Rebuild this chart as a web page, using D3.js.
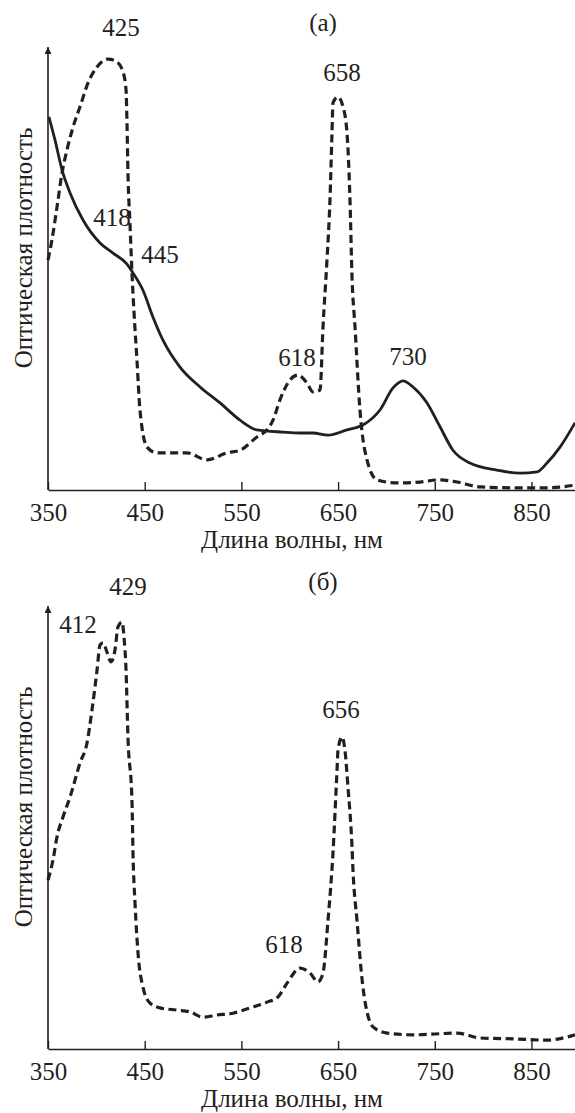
<!DOCTYPE html>
<html>
<head>
<meta charset="utf-8">
<script src="https://d3js.org/d3.v7.min.js"></script>
<style>
  body { margin: 0; background: #fff; }
  text { font-family: "Liberation Serif", "DejaVu Serif", serif; fill: #231f20; }
</style>
</head>
<body>
<script>
// wavelength ticks, nm
var wavelengthTicks = [350, 450, 550, 650, 750, 850];

// (a) dashed spectrum: [nm, optical density]
var spectrumA_dashed = [
  [350, 0.520], [354.1, 0.566], [359.3, 0.640], [364.5, 0.717], [369.6, 0.769],
  [375.9, 0.821], [383.1, 0.867], [391.4, 0.921], [400.7, 0.957], [412, 0.975],
  [421.4, 0.968], [427.6, 0.946], [430.7, 0.905], [431.7, 0.830], [432.7, 0.717],
  [434.8, 0.602], [436.9, 0.489], [439, 0.400], [442, 0.294], [445.1, 0.181],
  [452.4, 0.097], [462.7, 0.084], [479.3, 0.084], [493.7, 0.084], [514.4, 0.068],
  [535.1, 0.084], [548.6, 0.090], [566.1, 0.120], [576.5, 0.136], [582.7, 0.158],
  [589.9, 0.204], [600.3, 0.249], [608.5, 0.260], [617.8, 0.242], [624, 0.222],
  [631.3, 0.226], [634.4, 0.369], [638.5, 0.520], [641.6, 0.656], [643.7, 0.808],
  [644.7, 0.876], [649.9, 0.889], [655.1, 0.867], [659.2, 0.808], [662.3, 0.656],
  [664.4, 0.482], [667.5, 0.369], [672.6, 0.181], [679.9, 0.068], [690.2, 0.023],
  [710.9, 0.016], [734.7, 0.018], [755.4, 0.023], [773, 0.018], [796.7, 0.007],
  [830.9, 0.005], [866, 0.005], [895, 0.011]
];

// (a) solid spectrum
var spectrumA_solid = [
  [351, 0.844], [357.2, 0.792], [364.5, 0.724], [372.8, 0.672], [386.2, 0.611],
  [403.8, 0.559], [417.2, 0.536], [431.7, 0.511], [437.9, 0.491], [448.2, 0.452],
  [458.6, 0.391], [468.9, 0.339], [486.5, 0.278], [507.2, 0.233], [527.9, 0.197],
  [548.6, 0.158], [566.1, 0.136], [593, 0.131], [610.6, 0.129], [624, 0.129],
  [639.6, 0.124], [659.2, 0.136], [675.7, 0.147], [693.3, 0.181], [706.8, 0.231],
  [717.1, 0.247], [727.5, 0.233], [742, 0.197], [755.4, 0.143], [768.8, 0.090],
  [786.4, 0.061], [814.3, 0.045], [838.1, 0.038], [855.7, 0.041], [866, 0.061],
  [879.5, 0.097], [895, 0.152]
];

// (б) dashed spectrum
var spectrumB_dashed = [
  [350, 0.382], [355.2, 0.428], [359.3, 0.480], [365.5, 0.525], [372.8, 0.570],
  [383.1, 0.647], [390.3, 0.692], [395.5, 0.767], [400.7, 0.857], [403.8, 0.914],
  [406.9, 0.919], [411, 0.898], [415.1, 0.876], [419.3, 0.903], [422.4, 0.955],
  [426.5, 0.966], [428.6, 0.932], [430.7, 0.857], [432.7, 0.706], [436.9, 0.557],
  [437.9, 0.443], [440, 0.330], [443.1, 0.217], [448.2, 0.140], [455.5, 0.104],
  [465.8, 0.093], [483.4, 0.088], [496.8, 0.084], [510.3, 0.072], [524.8, 0.077],
  [541.3, 0.081], [558.9, 0.093], [576.5, 0.106], [587.9, 0.118], [597.2, 0.149],
  [610.6, 0.183], [620.9, 0.172], [629.2, 0.152], [634.4, 0.172], [639.6, 0.292],
  [644.7, 0.443], [648.9, 0.631], [649.9, 0.676], [654, 0.706], [657.1, 0.676],
  [660.2, 0.593], [664.4, 0.457], [665.4, 0.405], [669.5, 0.292], [675.7, 0.140],
  [686.1, 0.050], [700.6, 0.036], [727.5, 0.032], [773, 0.036], [796.7, 0.025],
  [830.9, 0.023], [866, 0.020], [886.7, 0.027], [895, 0.032]
];

// peak labels: text, nm, optical density of the label baseline
var peaksA = [
  ["425", 425.5, 1.027], ["658", 654, 0.925], ["418", 416.2, 0.597],
  ["445", 465.8, 0.514], ["618", 607.5, 0.281], ["730", 722.3, 0.283]
];
var peaksB = [
  ["412", 381, 0.941], ["429", 432.7, 1.027], ["656", 653, 0.749], ["618", 594, 0.217]
];

var panelTitles = ["(а)", "(б)"];
var xTitle = "Длина волны, нм";
var yTitle = "Оптическая плотность";

var W = 575, H = 1113;
var fontSize = 25;
var ink = "#231f20";

var svg = d3.select("body").append("svg")
    .attr("width", W)
    .attr("height", H);

var defs = svg.append("defs");
defs.append("marker")
    .attr("id", "arrow")
    .attr("viewBox", "0 0 10 10")
    .attr("refX", 10).attr("refY", 5)
    .attr("markerWidth", 12).attr("markerHeight", 7)
    .attr("markerUnits", "userSpaceOnUse")
    .attr("orient", "auto")
  .append("path")
    .attr("d", "M0,0 L10,5 L0,10 Z")
    .attr("fill", ink);

var x = d3.scaleLinear()
    .domain([350, 895])
    .range([48, 575]);

function drawPanel(offsetY, title, series, peaks) {
  var g = svg.append("g")
      .attr("transform", "translate(0," + offsetY + ")");

  var y = d3.scaleLinear()
      .domain([0, 1])
      .range([490, 48]);

  // x axis, inner ticks
  var xAxis = g.append("g")
      .attr("transform", "translate(0," + y(0) + ")")
      .call(d3.axisBottom(x)
          .tickValues(wavelengthTicks)
          .tickSizeInner(-8)
          .tickSizeOuter(0)
          .tickPadding(13)
          .tickFormat(d3.format("d")));
  xAxis.select(".domain").attr("stroke", ink).attr("stroke-width", 1.6);
  xAxis.selectAll(".tick line").attr("stroke", ink).attr("stroke-width", 1.4);
  xAxis.selectAll(".tick text")
      .attr("fill", ink)
      .style("font-size", fontSize + "px")
      .style("font-family", "'Liberation Serif', serif");

  // y axis with arrow
  g.append("line")
      .attr("x1", x(350)).attr("x2", x(350))
      .attr("y1", y(0)).attr("y2", y(1) - 1)
      .attr("stroke", ink)
      .attr("stroke-width", 1.6)
      .attr("marker-end", "url(#arrow)");

  var line = d3.line()
      .x(function(d) { return x(d[0]); })
      .y(function(d) { return y(d[1]); })
      .curve(d3.curveMonotoneX);

  series.forEach(function(s) {
    g.append("path")
        .datum(s.data)
        .attr("fill", "none")
        .attr("stroke", ink)
        .attr("stroke-width", s.dashed ? 3.2 : 2.8)
        .attr("stroke-linejoin", "round")
        .attr("stroke-dasharray", s.dashed ? "8,4.5" : null)
        .attr("d", line);
  });

  g.selectAll("text.peak")
      .data(peaks)
    .enter().append("text")
      .attr("class", "peak")
      .attr("x", function(d) { return x(d[1]); })
      .attr("y", function(d) { return y(d[2]); })
      .attr("text-anchor", "middle")
      .style("font-size", fontSize + "px")
      .text(function(d) { return d[0]; });

  g.append("text")
      .attr("x", 323)
      .attr("y", 31)
      .attr("text-anchor", "middle")
      .style("font-size", fontSize + "px")
      .text(title);

  g.append("text")
      .attr("x", 292)
      .attr("y", y(0) + 58)
      .attr("text-anchor", "middle")
      .style("font-size", fontSize + "px")
      .text(xTitle);

  g.append("text")
      .attr("transform", "translate(32," + ((y(0) + y(1)) / 2 - 21) + ") rotate(-90)")
      .attr("text-anchor", "middle")
      .style("font-size", fontSize + "px")
      .text(yTitle);
}

drawPanel(0, panelTitles[0],
  [{data: spectrumA_dashed, dashed: true}, {data: spectrumA_solid, dashed: false}],
  peaksA);

drawPanel(559, panelTitles[1],
  [{data: spectrumB_dashed, dashed: true}],
  peaksB);
</script>
</body>
</html>
